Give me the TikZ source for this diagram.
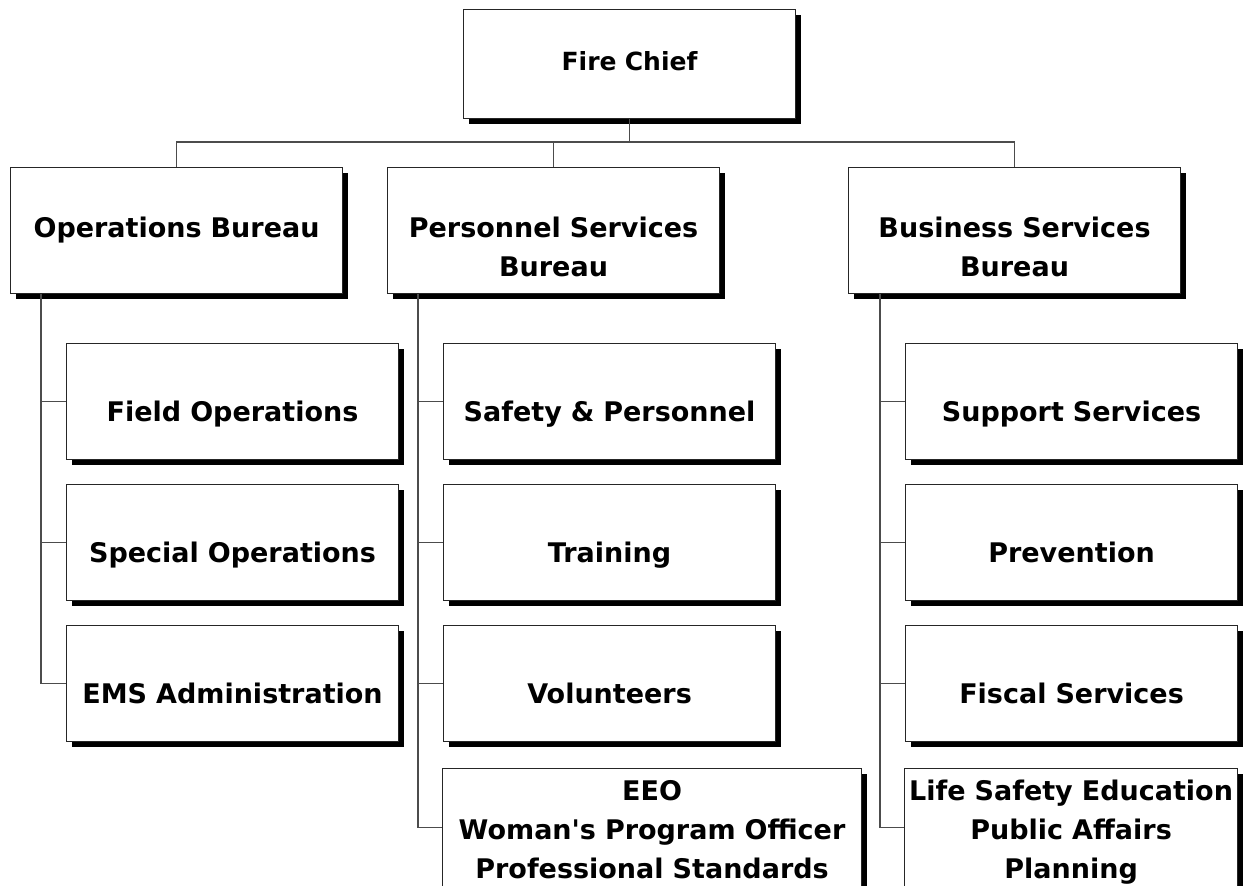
\documentclass[tikz,border=0pt]{standalone}
\usepackage{fontspec}
\setmainfont{DejaVu Sans}[Ligatures=TeXOff]
\usetikzlibrary{shadows,calc}

\tikzset{
  box/.style={draw=black!85, line width=1.1pt, fill=white, inner sep=0pt,
    anchor=north west, align=center,
    font=\bfseries\fontsize{27}{39}\selectfont,
    drop shadow={shadow xshift=5pt, shadow yshift=-5pt, fill=black, opacity=1}},
  chiefbox/.style={box, minimum width=332pt, minimum height=109pt, text width=320pt,
    text height=25pt, text depth=12pt, font=\bfseries\fontsize{25}{39}\selectfont},
  bureaubox/.style={box, minimum width=332pt, minimum height=126pt, text width=320pt,
    text height=30pt, text depth=16pt},
  unitbox/.style={box, minimum width=332pt, minimum height=116pt, text width=320pt,
    text height=45pt, text depth=5pt},
  lastbox/.style={box, minimum height=118pt, text height=5pt, text depth=59pt},
  link/.style={draw=black!70, line width=1.2pt}
}

\begin{document}
\begin{tikzpicture}[x=1pt, y=-1pt]
  \useasboundingbox (0,0) rectangle (1251,886);

  % Top
  \node[chiefbox] (chief) at (463,9) {Fire Chief};

  % Bureaus
  \node[bureaubox] (ops) at (10,167) {Operations Bureau};
  \node[bureaubox] (pers) at (387,167) {Personnel Services\\Bureau};
  \node[bureaubox] (bus) at (848,167) {Business Services\\Bureau};

  % Operations units
  \node[unitbox] (field) at (66,343) {Field Operations};
  \node[unitbox] (spec) at (66,484) {Special Operations};
  \node[unitbox] (ems) at (66,625) {EMS Administration};

  % Personnel units
  \node[unitbox] (safety) at (443,343) {Safety \& Personnel};
  \node[unitbox] (train) at (443,484) {Training};
  \node[unitbox] (vol) at (443,625) {Volunteers};
  \node[lastbox, minimum width=419pt, text width=410pt] (eeo) at (442,768)
    {EEO\\Woman's Program Officer\\Professional Standards};

  % Business units
  \node[unitbox] (support) at (905,343) {Support Services};
  \node[unitbox] (prev) at (905,484) {Prevention};
  \node[unitbox] (fiscal) at (905,625) {Fiscal Services};
  \node[lastbox, minimum width=333pt, text width=325pt] (life) at (904,768)
    {Life Safety Education\\Public Affairs\\Planning};

  % Chief to bureaus
  \draw[link] (chief.south) -- ($(chief.south)+(0,24)$);
  \draw[link] (ops.north) -- ++(0,-25) -| (bus.north);
  \draw[link] (pers.north) -- ++(0,-25);

  % Spines
  \coordinate (opsSpine) at ($(ops.south west)+(31,0)$);
  \coordinate (persSpine) at ($(pers.south west)+(31,0)$);
  \coordinate (busSpine) at ($(bus.south west)+(32,0)$);
  \draw[link] (opsSpine) |- (ems.west);
  \draw[link] (persSpine) |- (eeo.west);
  \draw[link] (busSpine) |- (life.west);
  \draw[link] (field.west) -- (field.west -| opsSpine);
  \draw[link] (spec.west) -- (spec.west -| opsSpine);
  \draw[link] (safety.west) -- (safety.west -| persSpine);
  \draw[link] (train.west) -- (train.west -| persSpine);
  \draw[link] (vol.west) -- (vol.west -| persSpine);
  \draw[link] (support.west) -- (support.west -| busSpine);
  \draw[link] (prev.west) -- (prev.west -| busSpine);
  \draw[link] (fiscal.west) -- (fiscal.west -| busSpine);
\end{tikzpicture}
\end{document}
